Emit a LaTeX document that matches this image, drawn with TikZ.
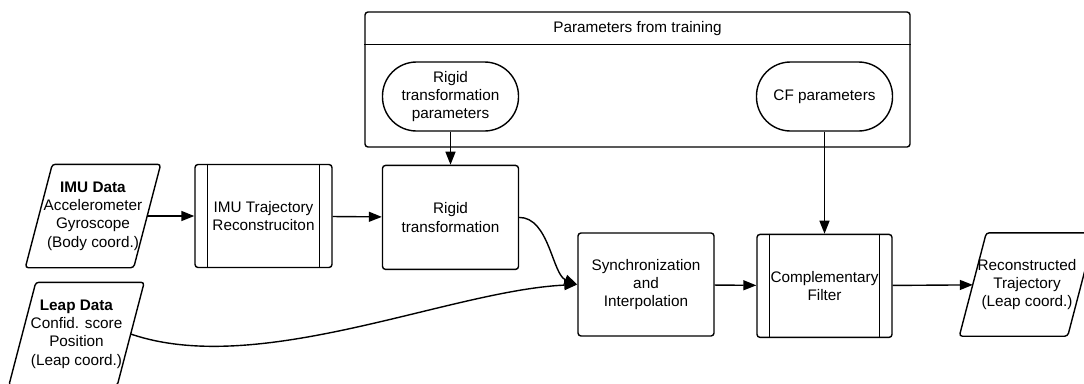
\documentclass[tikz,border=0pt]{standalone}
\usepackage{fontspec}
\setmainfont{Liberation Sans}
\usetikzlibrary{arrows.meta,positioning}

\begin{document}
\begin{tikzpicture}[x=1pt,y=-1pt,>={Triangle[length=13pt,width=10pt]},line width=1.4pt,
  every node/.style={font=\fontsize{15.3}{18.4}\selectfont,align=center,inner sep=0pt},
  box/.style={draw,rounded corners=3pt,minimum width=136pt,minimum height=103pt},
  term/.style={draw,rounded corners=34pt,minimum width=136pt,minimum height=69pt},
  datapara/.style={minimum width=107pt,minimum height=102pt,
    append after command={\pgfextra{\draw[rounded corners=3pt]
      ([xshift=13.5pt]\tikzlastnode.north west) -- ([xshift=13.5pt]\tikzlastnode.north east)
      -- ([xshift=-13.5pt]\tikzlastnode.south east) -- ([xshift=-13.5pt]\tikzlastnode.south west)
      -- cycle;}}}]
\fill[white] (0,0) rectangle (1084,383);
\useasboundingbox (0,0) rectangle (1084,383);
% training parameters
\node[draw,rounded corners=3pt,minimum width=545pt,minimum height=135pt] (train) at (637.5,79.5) {};
\node[minimum height=33pt,anchor=north] (title) at (train.north) {Parameters from training};
\draw ([yshift=-33pt]train.north west) -- ([yshift=-33pt]train.north east);
\node[term] (rtp) at (450.5,96.5) {Rigid\\transformation\\parameters};
\node[term] (cfp) at (824.5,96.5) {CF parameters};
% main chain
\node[datapara] (imu) at (93,216) {\textbf{IMU Data}\\Accelerometer\\Gyroscope\\(Body coord.)};
\node[box,minimum width=137pt] (traj) at (263.5,216) {IMU Trajectory\\Reconstruciton};
\node[box,minimum height=104pt,below=33pt of rtp] (rigid) {Rigid\\transformation};
\node[box] (sync) at (646,284.5) {Synchronization\\and\\Interpolation};
\node[box,minimum width=135pt,below=102pt of cfp] (cf) {Complementary\\Filter};
\node[datapara] (recon) at (1027,284.5) {Reconstructed\\Trajectory\\(Leap coord.)};
\node[datapara] (leap) at (76.5,334) {\textbf{Leap Data}\\Confid. score\\Position\\(Leap coord.)};
\foreach \n in {traj,cf}
  \draw ([xshift=13pt]\n.north west) -- ([xshift=13pt]\n.south west)
        ([xshift=-13pt]\n.north east) -- ([xshift=-13pt]\n.south east);
% connectors
\draw[->] (imu) -- (traj);
\draw[->] (traj) -- (rigid);
\draw[->] (rtp) -- (rigid);
\draw[->] (cfp) -- (cf);
\draw[->] (rigid.east) .. controls +(30,0) and +(-25,-10) .. (sync.west);
\draw[->] (leap.east) .. controls +(128,44) and +(-128,6) .. (sync.west);
\draw[->] (sync) -- (cf);
\draw[->] (cf) -- (recon);
\end{tikzpicture}
\end{document}
